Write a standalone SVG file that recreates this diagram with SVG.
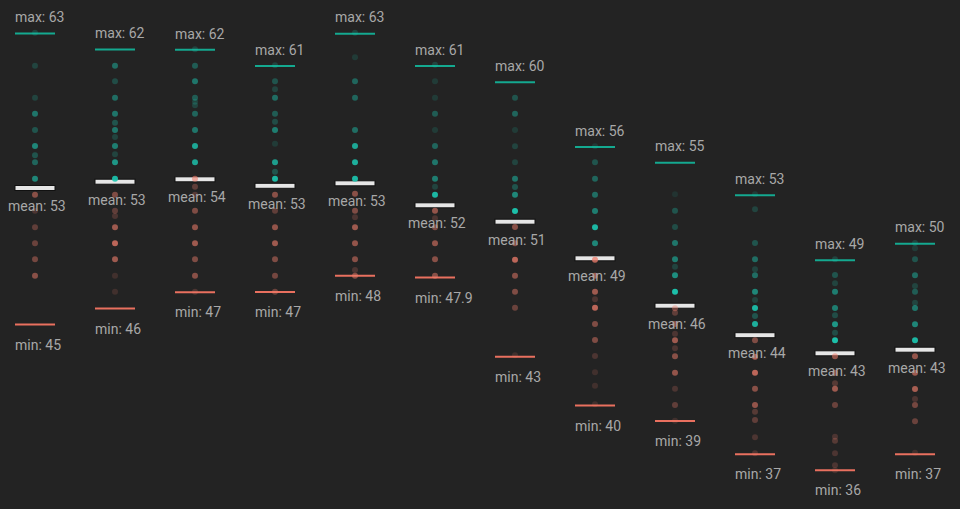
<svg xmlns="http://www.w3.org/2000/svg" width="960" height="509" viewBox="0 0 960 509">
<style>
.bg{fill:#232323}
.lbl{font-family:Roboto,"Liberation Sans",sans-serif;font-size:14px;fill:#a8a8a8}
.mx{stroke:#14a990;stroke-width:2}
.mn{stroke:#e9705f;stroke-width:2}
.mean{fill:#e6e6e6;stroke:#111;stroke-width:1}
.t{fill:#1cc8b1}
.s{fill:#f07e6c}
circle{r:3}
</style>
<rect class="bg" width="960" height="509"/>
<g id="col1" transform="translate(35,0)">
<line class="mx" x1="-20" x2="20" y1="33.5" y2="33.5"/><line class="mn" x1="-20" x2="20" y1="324.5" y2="324.5"/>
<rect class="mean" x="-20" y="185.5" width="40" height="5"/>
<circle class="t" cx="0" cy="32.7" r="3" opacity=".2"/><circle class="t" cx="0" cy="65.7" r="3" opacity=".2"/><circle class="t" cx="0" cy="97.7" r="3" opacity=".2"/><circle class="t" cx="0" cy="113.7" r="3" opacity=".5"/><circle class="t" cx="0" cy="130" r="3" opacity=".3"/><circle class="t" cx="0" cy="146" r="3" opacity=".6"/><circle class="t" cx="0" cy="155.3" r="3" opacity=".3"/><circle class="t" cx="0" cy="162.3" r="3" opacity=".4"/><circle class="t" cx="0" cy="178.7" r="3" opacity=".6"/>
<circle class="s" cx="0" cy="194.7" r="3" opacity=".5"/><circle class="s" cx="0" cy="210.7" r="3" opacity=".2"/><circle class="s" cx="0" cy="227.3" r="3" opacity=".3"/><circle class="s" cx="0" cy="243.3" r="3" opacity=".35"/><circle class="s" cx="0" cy="259.3" r="3" opacity=".4"/><circle class="s" cx="0" cy="275.7" r="3" opacity=".5"/>
<text class="lbl" x="-20" y="22.3">max: 63</text><text class="lbl" x="-27" y="211">mean: 53</text><text class="lbl" x="-20" y="349.5">min: 45</text>
</g>
<g id="col2" transform="translate(115,0)">
<line class="mx" x1="-20" x2="20" y1="49.5" y2="49.5"/><line class="mn" x1="-20" x2="20" y1="308.5" y2="308.5"/>
<rect class="mean" x="-20" y="179.2" width="40" height="5"/>
<circle class="t" cx="0" cy="65.7" r="3" opacity=".45"/><circle class="t" cx="0" cy="81.3" r="3" opacity=".25"/><circle class="t" cx="0" cy="97.7" r="3" opacity=".45"/><circle class="t" cx="0" cy="113.7" r="3" opacity=".5"/><circle class="t" cx="0" cy="122.7" r="3" opacity=".3"/><circle class="t" cx="0" cy="130" r="3" opacity=".5"/><circle class="t" cx="0" cy="137" r="3" opacity=".2"/><circle class="t" cx="0" cy="146" r="3" opacity=".55"/><circle class="t" cx="0" cy="154.3" r="3" opacity=".2"/><circle class="t" cx="0" cy="162.3" r="3" opacity=".7"/><circle class="t" cx="0" cy="178.7" r="3" opacity=".9"/>
<circle class="s" cx="0" cy="194.7" r="3" opacity=".45"/><circle class="s" cx="0" cy="210.7" r="3" opacity=".3"/><circle class="s" cx="0" cy="216" r="3" opacity=".2"/><circle class="s" cx="0" cy="227.3" r="3" opacity=".6"/><circle class="s" cx="0" cy="243.3" r="3" opacity=".75"/><circle class="s" cx="0" cy="259.3" r="3" opacity=".6"/><circle class="s" cx="0" cy="275.7" r="3" opacity=".15"/><circle class="s" cx="0" cy="291.7" r="3" opacity=".15"/>
<text class="lbl" x="-20" y="38.3">max: 62</text><text class="lbl" x="-27" y="204.7">mean: 53</text><text class="lbl" x="-20" y="333.5">min: 46</text>
</g>
<g id="col3" transform="translate(195,0)">
<line class="mx" x1="-20" x2="20" y1="49.7" y2="49.7"/><line class="mn" x1="-20" x2="20" y1="292.3" y2="292.3"/>
<rect class="mean" x="-20" y="176.8" width="40" height="5"/>
<circle class="t" cx="0" cy="49.3" r="3" opacity=".2"/><circle class="t" cx="0" cy="65.7" r="3" opacity=".35"/><circle class="t" cx="0" cy="81.3" r="3" opacity=".5"/><circle class="t" cx="0" cy="97.7" r="3" opacity=".35"/><circle class="t" cx="0" cy="101.7" r="3" opacity=".2"/><circle class="t" cx="0" cy="105.3" r="3" opacity=".2"/><circle class="t" cx="0" cy="113.7" r="3" opacity=".4"/><circle class="t" cx="0" cy="130" r="3" opacity=".5"/><circle class="t" cx="0" cy="146" r="3" opacity=".8"/><circle class="t" cx="0" cy="162.3" r="3" opacity=".8"/>
<circle class="s" cx="0" cy="178.7" r="3" opacity=".6"/><circle class="s" cx="0" cy="186.7" r="3" opacity=".3"/><circle class="s" cx="0" cy="194.7" r="3" opacity=".25"/><circle class="s" cx="0" cy="210.7" r="3" opacity=".45"/><circle class="s" cx="0" cy="227.3" r="3" opacity=".55"/><circle class="s" cx="0" cy="243.3" r="3" opacity=".6"/><circle class="s" cx="0" cy="259.3" r="3" opacity=".45"/><circle class="s" cx="0" cy="275.7" r="3" opacity=".5"/><circle class="s" cx="0" cy="291.7" r="3" opacity=".2"/>
<text class="lbl" x="-20" y="38.5">max: 62</text><text class="lbl" x="-27" y="202.3">mean: 54</text><text class="lbl" x="-20" y="317.3">min: 47</text>
</g>
<g id="col4" transform="translate(275,0)">
<line class="mx" x1="-20" x2="20" y1="66" y2="66"/><line class="mn" x1="-20" x2="20" y1="292" y2="292"/>
<rect class="mean" x="-20" y="183.3" width="40" height="5"/>
<circle class="t" cx="0" cy="65.3" r="3" opacity=".2"/><circle class="t" cx="0" cy="81.3" r="3" opacity=".3"/><circle class="t" cx="0" cy="89.3" r="3" opacity=".2"/><circle class="t" cx="0" cy="97.7" r="3" opacity=".45"/><circle class="t" cx="0" cy="113.7" r="3" opacity=".35"/><circle class="t" cx="0" cy="121.7" r="3" opacity=".25"/><circle class="t" cx="0" cy="130" r="3" opacity=".55"/><circle class="t" cx="0" cy="143.7" r="3" opacity=".15"/><circle class="t" cx="0" cy="162.3" r="3" opacity=".75"/><circle class="t" cx="0" cy="171.7" r="3" opacity=".3"/><circle class="t" cx="0" cy="178.7" r="3" opacity=".9"/>
<circle class="s" cx="0" cy="194.7" r="3" opacity=".5"/><circle class="s" cx="0" cy="210.7" r="3" opacity=".3"/><circle class="s" cx="0" cy="227.3" r="3" opacity=".55"/><circle class="s" cx="0" cy="243.3" r="3" opacity=".6"/><circle class="s" cx="0" cy="259.3" r="3" opacity=".45"/><circle class="s" cx="0" cy="275.7" r="3" opacity=".4"/><circle class="s" cx="0" cy="291.7" r="3" opacity=".35"/>
<text class="lbl" x="-20" y="54.5">max: 61</text><text class="lbl" x="-27" y="208.8">mean: 53</text><text class="lbl" x="-20" y="317">min: 47</text>
</g>
<g id="col5" transform="translate(355,0)">
<line class="mx" x1="-20" x2="20" y1="33.7" y2="33.7"/><line class="mn" x1="-20" x2="20" y1="275.7" y2="275.7"/>
<rect class="mean" x="-20" y="180.8" width="40" height="5"/>
<circle class="t" cx="0" cy="32.7" r="3" opacity=".2"/><circle class="t" cx="0" cy="57.3" r="3" opacity=".15"/><circle class="t" cx="0" cy="81.3" r="3" opacity=".4"/><circle class="t" cx="0" cy="97.7" r="3" opacity=".4"/><circle class="t" cx="0" cy="130" r="3" opacity=".45"/><circle class="t" cx="0" cy="146" r="3" opacity=".8"/><circle class="t" cx="0" cy="162.3" r="3" opacity=".85"/><circle class="t" cx="0" cy="178.7" r="3" opacity=".9"/>
<circle class="s" cx="0" cy="193.7" r="3" opacity=".5"/><circle class="s" cx="0" cy="210.7" r="3" opacity=".45"/><circle class="s" cx="0" cy="217.3" r="3" opacity=".2"/><circle class="s" cx="0" cy="227.3" r="3" opacity=".6"/><circle class="s" cx="0" cy="243.3" r="3" opacity=".55"/><circle class="s" cx="0" cy="259.3" r="3" opacity=".5"/><circle class="s" cx="0" cy="270" r="3" opacity=".2"/><circle class="s" cx="0" cy="275.7" r="3" opacity=".5"/>
<text class="lbl" x="-20" y="22.3">max: 63</text><text class="lbl" x="-27" y="206.3">mean: 53</text><text class="lbl" x="-20" y="300.7">min: 48</text>
</g>
<g id="col6" transform="translate(435,0)">
<line class="mx" x1="-20" x2="20" y1="66" y2="66"/><line class="mn" x1="-20" x2="20" y1="277.5" y2="277.5"/>
<rect class="mean" x="-20" y="202.8" width="40" height="5"/>
<circle class="t" cx="0" cy="64.7" r="3" opacity=".2"/><circle class="t" cx="0" cy="81.3" r="3" opacity=".15"/><circle class="t" cx="0" cy="97.7" r="3" opacity=".15"/><circle class="t" cx="0" cy="113.7" r="3" opacity=".35"/><circle class="t" cx="0" cy="130" r="3" opacity=".15"/><circle class="t" cx="0" cy="146" r="3" opacity=".4"/><circle class="t" cx="0" cy="162.3" r="3" opacity=".5"/><circle class="t" cx="0" cy="178.7" r="3" opacity=".55"/><circle class="t" cx="0" cy="186.7" r="3" opacity=".2"/><circle class="t" cx="0" cy="194.7" r="3" opacity=".9"/>
<circle class="s" cx="0" cy="210.7" r="3" opacity=".55"/><circle class="s" cx="0" cy="218.3" r="3" opacity=".2"/><circle class="s" cx="0" cy="227.3" r="3" opacity=".45"/><circle class="s" cx="0" cy="243.3" r="3" opacity=".55"/><circle class="s" cx="0" cy="259.3" r="3" opacity=".5"/><circle class="s" cx="0" cy="275.7" r="3" opacity=".5"/>
<text class="lbl" x="-20" y="54.5">max: 61</text><text class="lbl" x="-27" y="228.3">mean: 52</text><text class="lbl" x="-20" y="302.5">min: 47.9</text>
</g>
<g id="col7" transform="translate(515,0)">
<line class="mx" x1="-20" x2="20" y1="82.3" y2="82.3"/><line class="mn" x1="-20" x2="20" y1="356.7" y2="356.7"/>
<rect class="mean" x="-20" y="219.2" width="40" height="5"/>
<circle class="t" cx="0" cy="97.7" r="3" opacity=".3"/><circle class="t" cx="0" cy="113.7" r="3" opacity=".4"/><circle class="t" cx="0" cy="130" r="3" opacity=".15"/><circle class="t" cx="0" cy="146.3" r="3" opacity=".2"/><circle class="t" cx="0" cy="162.3" r="3" opacity=".2"/><circle class="t" cx="0" cy="178.7" r="3" opacity=".5"/><circle class="t" cx="0" cy="187" r="3" opacity=".3"/><circle class="t" cx="0" cy="194.7" r="3" opacity=".6"/><circle class="t" cx="0" cy="211" r="3" opacity=".95"/>
<circle class="s" cx="0" cy="227" r="3" opacity=".5"/><circle class="s" cx="0" cy="243.3" r="3" opacity=".5"/><circle class="s" cx="0" cy="259.7" r="3" opacity=".75"/><circle class="s" cx="0" cy="275.7" r="3" opacity=".5"/><circle class="s" cx="0" cy="291.7" r="3" opacity=".45"/><circle class="s" cx="0" cy="307.7" r="3" opacity=".35"/><circle class="s" cx="0" cy="355.3" r="3" opacity=".15"/>
<text class="lbl" x="-20" y="70.8">max: 60</text><text class="lbl" x="-27" y="244.5">mean: 51</text><text class="lbl" x="-20" y="381.7">min: 43</text>
</g>
<g id="col8" transform="translate(595,0)">
<line class="mx" x1="-20" x2="20" y1="147" y2="147"/><line class="mn" x1="-20" x2="20" y1="405.5" y2="405.5"/>
<rect class="mean" x="-20" y="255.8" width="40" height="5"/>
<circle class="t" cx="0" cy="146.3" r="3" opacity=".15"/><circle class="t" cx="0" cy="162.3" r="3" opacity=".3"/><circle class="t" cx="0" cy="178.7" r="3" opacity=".4"/><circle class="t" cx="0" cy="194.7" r="3" opacity=".45"/><circle class="t" cx="0" cy="211" r="3" opacity=".55"/><circle class="t" cx="0" cy="227.3" r="3" opacity=".9"/><circle class="t" cx="0" cy="243.3" r="3" opacity=".6"/>
<circle class="s" cx="0" cy="259.7" r="3" opacity=".75"/><circle class="s" cx="0" cy="275.7" r="3" opacity=".6"/><circle class="s" cx="0" cy="291.7" r="3" opacity=".6"/><circle class="s" cx="0" cy="299.3" r="3" opacity=".2"/><circle class="s" cx="0" cy="307.7" r="3" opacity=".75"/><circle class="s" cx="0" cy="324" r="3" opacity=".45"/><circle class="s" cx="0" cy="340" r="3" opacity=".45"/><circle class="s" cx="0" cy="356" r="3" opacity=".2"/><circle class="s" cx="0" cy="372.3" r="3" opacity=".15"/><circle class="s" cx="0" cy="385.7" r="3" opacity=".15"/><circle class="s" cx="0" cy="404.3" r="3" opacity=".15"/>
<text class="lbl" x="-20" y="135.5">max: 56</text><text class="lbl" x="-27" y="281.3">mean: 49</text><text class="lbl" x="-20" y="430.5">min: 40</text>
</g>
<g id="col9" transform="translate(675,0)">
<line class="mx" x1="-20" x2="20" y1="162.8" y2="162.8"/><line class="mn" x1="-20" x2="20" y1="421" y2="421"/>
<rect class="mean" x="-20" y="303.2" width="40" height="5"/>
<circle class="t" cx="0" cy="194.3" r="3" opacity=".1"/><circle class="t" cx="0" cy="210.7" r="3" opacity=".3"/><circle class="t" cx="0" cy="227" r="3" opacity=".25"/><circle class="t" cx="0" cy="243" r="3" opacity=".5"/><circle class="t" cx="0" cy="259.3" r="3" opacity=".55"/><circle class="t" cx="0" cy="266.7" r="3" opacity=".2"/><circle class="t" cx="0" cy="275.3" r="3" opacity=".65"/><circle class="t" cx="0" cy="291.7" r="3" opacity=".95"/>
<circle class="s" cx="0" cy="308.3" r="3" opacity=".4"/><circle class="s" cx="0" cy="312.7" r="3" opacity=".3"/><circle class="s" cx="0" cy="324" r="3" opacity=".5"/><circle class="s" cx="0" cy="333.7" r="3" opacity=".2"/><circle class="s" cx="0" cy="340.3" r="3" opacity=".6"/><circle class="s" cx="0" cy="348.3" r="3" opacity=".2"/><circle class="s" cx="0" cy="356.3" r="3" opacity=".5"/><circle class="s" cx="0" cy="372.7" r="3" opacity=".55"/><circle class="s" cx="0" cy="388.7" r="3" opacity=".2"/><circle class="s" cx="0" cy="405" r="3" opacity=".3"/><circle class="s" cx="0" cy="420.7" r="3" opacity=".15"/>
<text class="lbl" x="-20" y="151.3">max: 55</text><text class="lbl" x="-27" y="328.7">mean: 46</text><text class="lbl" x="-20" y="446">min: 39</text>
</g>
<g id="col10" transform="translate(755,0)">
<line class="mx" x1="-20" x2="20" y1="195.3" y2="195.3"/><line class="mn" x1="-20" x2="20" y1="454.2" y2="454.2"/>
<rect class="mean" x="-20" y="332.7" width="40" height="5"/>
<circle class="t" cx="0" cy="194.3" r="3" opacity=".15"/><circle class="t" cx="0" cy="209.3" r="3" opacity=".2"/><circle class="t" cx="0" cy="243" r="3" opacity=".3"/><circle class="t" cx="0" cy="259.3" r="3" opacity=".45"/><circle class="t" cx="0" cy="269.3" r="3" opacity=".2"/><circle class="t" cx="0" cy="275.3" r="3" opacity=".45"/><circle class="t" cx="0" cy="291.7" r="3" opacity=".6"/><circle class="t" cx="0" cy="300" r="3" opacity=".2"/><circle class="t" cx="0" cy="308" r="3" opacity=".9"/><circle class="t" cx="0" cy="316" r="3" opacity=".3"/><circle class="t" cx="0" cy="324" r="3" opacity=".85"/>
<circle class="s" cx="0" cy="340.3" r="3" opacity=".45"/><circle class="s" cx="0" cy="356.7" r="3" opacity=".7"/><circle class="s" cx="0" cy="372.7" r="3" opacity=".75"/><circle class="s" cx="0" cy="388.7" r="3" opacity=".5"/><circle class="s" cx="0" cy="405" r="3" opacity=".55"/><circle class="s" cx="0" cy="411.7" r="3" opacity=".25"/><circle class="s" cx="0" cy="420" r="3" opacity=".3"/><circle class="s" cx="0" cy="437.3" r="3" opacity=".2"/><circle class="s" cx="0" cy="453.3" r="3" opacity=".2"/>
<text class="lbl" x="-20" y="183.8">max: 53</text><text class="lbl" x="-27" y="358.2">mean: 44</text><text class="lbl" x="-20" y="479.2">min: 37</text>
</g>
<g id="col11" transform="translate(835,0)">
<line class="mx" x1="-20" x2="20" y1="260.2" y2="260.2"/><line class="mn" x1="-20" x2="20" y1="470.3" y2="470.3"/>
<rect class="mean" x="-20" y="350.8" width="40" height="5"/>
<circle class="t" cx="0" cy="259.3" r="3" opacity=".2"/><circle class="t" cx="0" cy="275" r="3" opacity=".3"/><circle class="t" cx="0" cy="283.3" r="3" opacity=".2"/><circle class="t" cx="0" cy="291.7" r="3" opacity=".55"/><circle class="t" cx="0" cy="308" r="3" opacity=".55"/><circle class="t" cx="0" cy="315.3" r="3" opacity=".25"/><circle class="t" cx="0" cy="324.3" r="3" opacity=".7"/><circle class="t" cx="0" cy="332.7" r="3" opacity=".25"/><circle class="t" cx="0" cy="340.3" r="3" opacity=".95"/>
<circle class="s" cx="0" cy="356.3" r="3" opacity=".55"/><circle class="s" cx="0" cy="372.7" r="3" opacity=".5"/><circle class="s" cx="0" cy="383.3" r="3" opacity=".25"/><circle class="s" cx="0" cy="388.7" r="3" opacity=".6"/><circle class="s" cx="0" cy="405" r="3" opacity=".35"/><circle class="s" cx="0" cy="436.7" r="3" opacity=".2"/><circle class="s" cx="0" cy="440.7" r="3" opacity=".25"/><circle class="s" cx="0" cy="453.3" r="3" opacity=".2"/><circle class="s" cx="0" cy="465.3" r="3" opacity=".2"/><circle class="s" cx="0" cy="470.3" r="3" opacity=".15"/>
<text class="lbl" x="-20" y="248.7">max: 49</text><text class="lbl" x="-27" y="376.3">mean: 43</text><text class="lbl" x="-20" y="495.3">min: 36</text>
</g>
<g id="col12" transform="translate(915,0)">
<line class="mx" x1="-20" x2="20" y1="243.7" y2="243.7"/><line class="mn" x1="-20" x2="20" y1="454.2" y2="454.2"/>
<rect class="mean" x="-20" y="347.2" width="40" height="5"/>
<circle class="t" cx="0" cy="243" r="3" opacity=".2"/><circle class="t" cx="0" cy="248.3" r="3" opacity=".15"/><circle class="t" cx="0" cy="259.3" r="3" opacity=".3"/><circle class="t" cx="0" cy="275.3" r="3" opacity=".45"/><circle class="t" cx="0" cy="286" r="3" opacity=".2"/><circle class="t" cx="0" cy="291.7" r="3" opacity=".35"/><circle class="t" cx="0" cy="302.7" r="3" opacity=".2"/><circle class="t" cx="0" cy="308" r="3" opacity=".5"/><circle class="t" cx="0" cy="324.3" r="3" opacity=".6"/><circle class="t" cx="0" cy="340.3" r="3" opacity=".9"/>
<circle class="s" cx="0" cy="356.3" r="3" opacity=".55"/><circle class="s" cx="0" cy="372.7" r="3" opacity=".6"/><circle class="s" cx="0" cy="389" r="3" opacity=".65"/><circle class="s" cx="0" cy="399" r="3" opacity=".2"/><circle class="s" cx="0" cy="405" r="3" opacity=".4"/><circle class="s" cx="0" cy="421.3" r="3" opacity=".35"/><circle class="s" cx="0" cy="452.7" r="3" opacity=".15"/>
<text class="lbl" x="-20" y="232.2">max: 50</text><text class="lbl" x="-27" y="372.7">mean: 43</text><text class="lbl" x="-20" y="479.2">min: 37</text>
</g>
<g id="connectors"/>
</svg>
